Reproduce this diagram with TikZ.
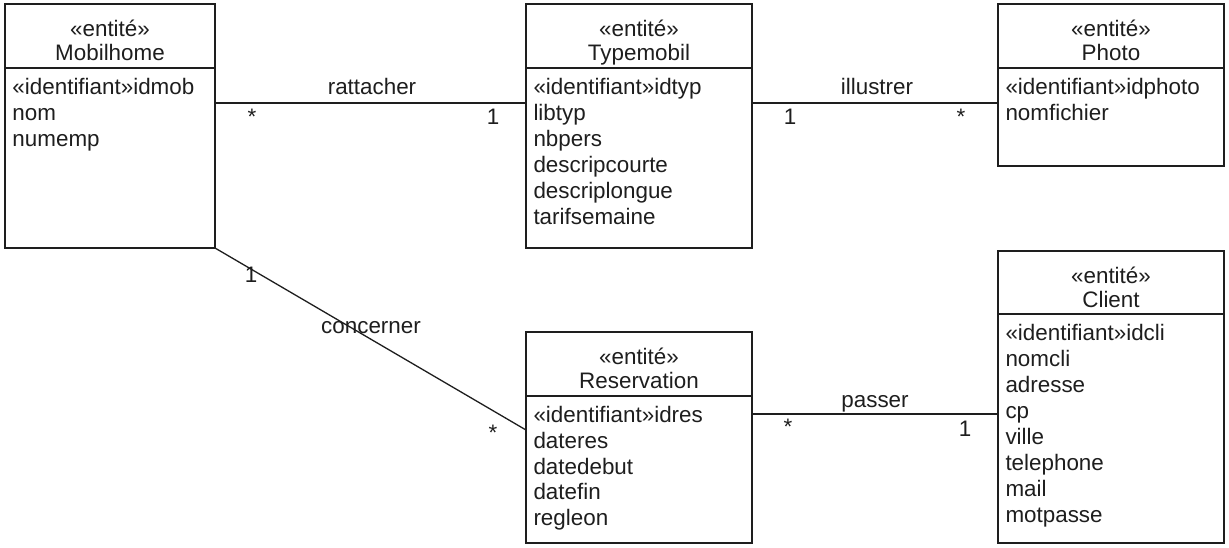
\documentclass[tikz,border=0pt]{standalone}
\usepackage{fontspec}
\setmainfont{Liberation Sans}
\definecolor{ink}{RGB}{30,30,30}
\begin{document}
\begin{tikzpicture}[x=1pt,y=-1pt,
  every node/.style={inner sep=0pt, outer sep=0pt, text=ink, font=\fontsize{22.4}{25.9}\selectfont},
  ebox/.style={draw=ink, line width=1.3pt, anchor=north west},
  divline/.style={draw=ink, line width=1.3pt},
  head/.style={anchor=north, align=center, font=\fontsize{22.4}{24.5}\selectfont},
  attr/.style={anchor=north west, align=left},
  assoc/.style={draw=ink, line width=1.3pt},
  lbl/.style={anchor=base}
]
\useasboundingbox (0,0) rectangle (1229,548);
\fill[white] (0,0) rectangle (1229,548);

% Mobilhome
\node[ebox, minimum width=210pt, minimum height=244pt] (mob) at (5,4) {};
\draw[divline] (mob.west |- 0,68) -- (mob.east |- 0,68);
\node[head] (mobT) at (110,20) {«entité»\\Mobilhome};
\node[attr] (mobA) at (12.5,78.5) {«identifiant»idmob\\nom\\numemp};

% Typemobil
\node[ebox, minimum width=226pt, minimum height=244pt] (typ) at (526,4) {};
\draw[divline] (typ.west |- 0,68) -- (typ.east |- 0,68);
\node[head] (typT) at (639,20) {«entité»\\Typemobil};
\node[attr] (typA) at (533.5,78.5) {«identifiant»idtyp\\libtyp\\nbpers\\descripcourte\\descriplongue\\tarifsemaine};

% Photo
\node[ebox, minimum width=226pt, minimum height=162pt] (pho) at (998,4) {};
\draw[divline] (pho.west |- 0,68) -- (pho.east |- 0,68);
\node[head] (phoT) at (1111,20) {«entité»\\Photo};
\node[attr] (phoA) at (1005.5,78.5) {«identifiant»idphoto\\nomfichier};

% Reservation
\node[ebox, minimum width=226pt, minimum height=211pt] (res) at (526,332) {};
\draw[divline] (res.west |- 0,396) -- (res.east |- 0,396);
\node[head] (resT) at (639,348) {«entité»\\Reservation};
\node[attr] (resA) at (533.5,406) {«identifiant»idres\\dateres\\datedebut\\datefin\\regleon};

% Client
\node[ebox, minimum width=226pt, minimum height=292pt] (cli) at (998,251) {};
\draw[divline] (cli.west |- 0,314) -- (cli.east |- 0,314);
\node[head] (cliT) at (1111,267) {«entité»\\Client};
\node[attr] (cliA) at (1005.5,324.5) {«identifiant»idcli\\nomcli\\adresse\\cp\\ville\\telephone\\mail\\motpasse};

% rattacher
\draw[assoc] (mob.east |- 0,103) -- (typ.west |- 0,103);
\node[lbl] (ratL) at (372,95) {rattacher};
\node[lbl] (ratM1) at (252,125) {*};
\node[lbl] (ratM2) at (493,125) {1};

% illustrer
\draw[assoc] (typ.east |- 0,103) -- (pho.west |- 0,103);
\node[lbl] (illL) at (877,95) {illustrer};
\node[lbl] (illM1) at (790,125) {1};
\node[lbl] (illM2) at (961,125) {*};

% concerner
\draw[assoc] (mob.south east) -- (res.west |- 0,430);
\node[lbl] (conL) at (371,333) {concerner};
\node[lbl] (conM1) at (251,283) {1};
\node[lbl] (conM2) at (493,440) {*};

% passer
\draw[assoc] (res.east |- 0,414) -- (cli.west |- 0,414);
\node[lbl] (pasL) at (875,407) {passer};
\node[lbl] (pasM1) at (788,434) {*};
\node[lbl] (pasM2) at (965,436) {1};
\end{tikzpicture}
\end{document}
